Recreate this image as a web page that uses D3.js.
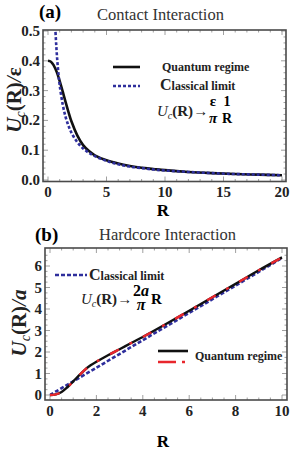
<!DOCTYPE html>
<html>
<head>
<meta charset="utf-8">
<script src="https://cdn.jsdelivr.net/npm/d3@7"></script>
<style>
  body { margin: 0; background: #fff; }
  svg { display: block; }
</style>
</head>
<body>
<svg id="chart" width="291" height="450"></svg>
<script>
// panel (a): contact interaction
const contactR = [0, 0.25, 0.5, 0.75, 1, 1.25, 1.5, 1.75, 2, 2.5, 3, 3.5, 4, 5, 6, 7, 8, 9, 10, 12, 14, 16, 18, 20];
const contactQuantum = [0.400, 0.397, 0.384, 0.362, 0.332, 0.298, 0.262, 0.228, 0.197, 0.150, 0.117, 0.097, 0.083, 0.066, 0.055, 0.047, 0.041, 0.037, 0.033, 0.027, 0.023, 0.020, 0.018, 0.016];
const contactClassR = [0.62, 0.7, 0.8, 0.9, 1, 1.25, 1.5, 1.75, 2, 2.5, 3, 3.5, 4, 5, 6, 7, 8, 9, 10, 12, 14, 16, 18, 20];
const contactClassical = [0.513, 0.455, 0.398, 0.354, 0.318, 0.255, 0.212, 0.182, 0.159, 0.127, 0.106, 0.091, 0.080, 0.064, 0.053, 0.045, 0.040, 0.035, 0.032, 0.027, 0.023, 0.020, 0.018, 0.016];
const contactXTicks = [0, 5, 10, 15, 20];
const contactYTicks = [0.0, 0.1, 0.2, 0.3, 0.4, 0.5];

// panel (b): hardcore interaction
const hardR = [0, 0.25, 0.5, 0.75, 1, 1.25, 1.5, 1.75, 2, 2.5, 3, 3.5, 4, 5, 6, 7, 8, 9, 10];
const hardQuantum = [0, 0.03, 0.14, 0.36, 0.63, 0.91, 1.17, 1.38, 1.55, 1.85, 2.13, 2.42, 2.70, 3.30, 3.92, 4.55, 5.17, 5.80, 6.40];
const hardClassR = [0, 2, 4, 6, 8, 10];
const hardClassical = [0, 1.27, 2.55, 3.82, 5.09, 6.37];
const hardXTicks = [0, 2, 4, 6, 8, 10];
const hardYTicks = [0, 1, 2, 3, 4, 5, 6];

const BLUE = '#2e2e9c';
const RED = '#e8262c';
const FRAME = '#4a4a4a';

const svg = d3.select('#chart');

function drawPanel(cfg) {
  const g = svg.append('g');
  const x = d3.scaleLinear().domain(cfg.xDomain).range(cfg.xRange);
  const y = d3.scaleLinear().domain(cfg.yDomain).range(cfg.yRange);
  const f = cfg.frame;

  g.append('clipPath').attr('id', cfg.id + '-clip')
    .append('rect').attr('x', f.x0).attr('y', f.y0)
    .attr('width', f.x1 - f.x0).attr('height', f.y1 - f.y0);

  // small inward ticks on all four sides
  const tickG = g.append('g').attr('stroke', '#888').attr('stroke-width', 0.8);
  cfg.xMinor.forEach(v => {
    const len = cfg.xTicks.includes(v) ? 5 : 2.5;
    tickG.append('line').attr('x1', x(v)).attr('x2', x(v)).attr('y1', f.y1).attr('y2', f.y1 - len);
    tickG.append('line').attr('x1', x(v)).attr('x2', x(v)).attr('y1', f.y0).attr('y2', f.y0 + len);
  });
  cfg.yMinor.forEach(v => {
    const len = cfg.yTicks.some(t => Math.abs(t - v) < 1e-9) ? 5 : 2.5;
    tickG.append('line').attr('y1', y(v)).attr('y2', y(v)).attr('x1', f.x0).attr('x2', f.x0 + len);
    tickG.append('line').attr('y1', y(v)).attr('y2', y(v)).attr('x1', f.x1).attr('x2', f.x1 - len);
  });

  g.append('g').selectAll('text').data(cfg.xTicks).enter().append('text')
    .attr('x', d => x(d)).attr('y', cfg.xLabelY)
    .attr('text-anchor', 'middle').attr('font-weight', 'bold').attr('font-size', 15)
    .attr('fill', '#222')
    .text(d => d);
  g.append('g').selectAll('text').data(cfg.yTicks).enter().append('text')
    .attr('x', f.x0 - 3).attr('y', d => y(d) + 5)
    .attr('text-anchor', 'end').attr('font-weight', 'bold').attr('font-size', 15)
    .attr('fill', '#222')
    .text(cfg.yFormat);

  const line = d3.line().x(d => x(d[0])).y(d => y(d[1])).curve(d3.curveCatmullRom);
  const lines = g.append('g').attr('clip-path', 'url(#' + cfg.id + '-clip)').attr('fill', 'none');
  cfg.series.forEach(s => {
    lines.append('path')
      .attr('d', line(s.xs.map((v, i) => [v, s.ys[i]])))
      .attr('stroke', s.color).attr('stroke-width', s.width)
      .attr('stroke-dasharray', s.dash || null);
  });

  g.append('rect').attr('x', f.x0).attr('y', f.y0)
    .attr('width', f.x1 - f.x0).attr('height', f.y1 - f.y0)
    .attr('fill', 'none').attr('stroke', FRAME).attr('stroke-width', 1.6);
}

function range(a, b, step) {
  const out = [];
  for (let v = a; v <= b + 1e-9; v += step) out.push(+v.toFixed(4));
  return out;
}

drawPanel({
  id: 'a',
  xDomain: [0, 20], xRange: [48, 282],
  yDomain: [0, 0.5], yRange: [180, 31],
  frame: { x0: 43, x1: 286, y0: 30, y1: 181.5 },
  xTicks: contactXTicks, xMinor: range(0, 20, 1),
  yTicks: contactYTicks, yMinor: range(0, 0.5, 0.02),
  yFormat: d => d.toFixed(1),
  xLabelY: 197,
  series: [
    { xs: contactR, ys: contactQuantum, color: '#111', width: 2.6 },
    { xs: contactClassR, ys: contactClassical, color: BLUE, width: 2.6, dash: '3,2' }
  ]
});

drawPanel({
  id: 'b',
  xDomain: [0, 10], xRange: [50, 282],
  yDomain: [0, 6], yRange: [395, 266],
  frame: { x0: 45, x1: 287, y0: 248, y1: 400 },
  xTicks: hardXTicks, xMinor: range(0, 10, 0.5),
  yTicks: hardYTicks, yMinor: range(0, 6.5, 0.25),
  yFormat: d => d,
  xLabelY: 416,
  series: [
    { xs: hardClassR, ys: hardClassical, color: BLUE, width: 2.6, dash: '4,2' },
    { xs: hardR, ys: hardQuantum, color: '#111', width: 2.4 },
    { xs: hardR, ys: hardQuantum, color: RED, width: 2.4, dash: '10,12,3,12' }
  ]
});

// titles
svg.append('text').attr('x', 39).attr('y', 18).attr('font-size', 19).attr('font-weight', 'bold').text('(a)');
svg.append('text').attr('x', 97).attr('y', 20).attr('font-size', 16.5).attr('fill', '#333').text('Contact Interaction');
svg.append('text').attr('x', 35).attr('y', 241).attr('font-size', 19).attr('font-weight', 'bold').text('(b)');
svg.append('text').attr('x', 99).attr('y', 240).attr('font-size', 16.5).attr('fill', '#333').text('Hardcore Interaction');

svg.append('text').attr('x', 163).attr('y', 216).attr('text-anchor', 'middle')
  .attr('font-size', 17).attr('font-weight', 'bold').text('R');
svg.append('text').attr('x', 163).attr('y', 447).attr('text-anchor', 'middle')
  .attr('font-size', 17).attr('font-weight', 'bold').text('R');

function yTitle(cx, cy, last, lastItalic) {
  const t = svg.append('text').attr('transform', `translate(${cx},${cy}) rotate(-90)`)
    .attr('text-anchor', 'middle').attr('font-size', 21).attr('fill', '#222');
  t.append('tspan').attr('font-style', 'italic').attr('font-weight', 'bold').text('U');
  t.append('tspan').attr('font-style', 'italic').attr('font-size', 14).attr('dy', 4).text('c');
  t.append('tspan').attr('font-weight', 'bold').attr('dy', -4).text('(R)');
  t.append('tspan').attr('font-style', 'italic').text('/');
  t.append('tspan').attr('font-style', lastItalic ? 'italic' : null).attr('font-weight', 'bold').text(last);
}
yTitle(21, 100, 'ε', false);
yTitle(26, 323, 'a', true);

function legendText(x, y, label, bigFirst) {
  const t = svg.append('text').attr('x', x).attr('y', y).attr('font-size', 12)
    .attr('font-weight', 'bold').attr('fill', '#222');
  if (bigFirst) {
    t.append('tspan').attr('font-size', 16).text(label[0]);
    t.append('tspan').text(label.slice(1));
  } else {
    t.text(label);
  }
}

// legend (a)
svg.append('line').attr('x1', 113).attr('x2', 140).attr('y1', 67).attr('y2', 67)
  .attr('stroke', '#111').attr('stroke-width', 2.6);
legendText(162, 71, 'Quantum regime', false);
svg.append('line').attr('x1', 113).attr('x2', 140).attr('y1', 86).attr('y2', 86)
  .attr('stroke', BLUE).attr('stroke-width', 2.4).attr('stroke-dasharray', '3,2');
legendText(160, 90, 'Classical limit', true);

function uc(x, y) {
  const t = svg.append('text').attr('x', x).attr('y', y).attr('font-size', 15).attr('fill', '#222');
  t.append('tspan').attr('font-style', 'italic').text('U');
  t.append('tspan').attr('font-style', 'italic').attr('font-size', 10).attr('dy', 3).text('c');
  t.append('tspan').attr('font-weight', 'bold').attr('dy', -3).text('(R)');
  t.append('tspan').attr('font-weight', 'bold').text('→');
}
uc(157, 116);
svg.append('text').attr('x', 213).attr('y', 106).attr('text-anchor', 'middle').attr('font-size', 15).attr('font-weight', 'bold').text('ε');
svg.append('text').attr('x', 213).attr('y', 123).attr('text-anchor', 'middle').attr('font-size', 15).attr('font-style', 'italic').attr('font-weight', 'bold').text('π');
svg.append('text').attr('x', 227).attr('y', 106).attr('text-anchor', 'middle').attr('font-size', 14).attr('font-weight', 'bold').text('1');
svg.append('text').attr('x', 227).attr('y', 123).attr('text-anchor', 'middle').attr('font-size', 14).attr('font-weight', 'bold').text('R');

// legend (b)
svg.append('line').attr('x1', 55).attr('x2', 87).attr('y1', 275).attr('y2', 275)
  .attr('stroke', BLUE).attr('stroke-width', 2.6).attr('stroke-dasharray', '4,2');
legendText(89, 280, 'Classical limit', true);
uc(81, 304);
svg.append('text').attr('x', 141).attr('y', 296).attr('text-anchor', 'middle').attr('font-size', 16)
  .attr('font-weight', 'bold').html('2<tspan font-style="italic">a</tspan>');
svg.append('text').attr('x', 141).attr('y', 310).attr('text-anchor', 'middle').attr('font-size', 16).attr('font-style', 'italic').attr('font-weight', 'bold').text('π');
svg.append('text').attr('x', 151).attr('y', 304).attr('font-size', 15).attr('font-weight', 'bold').text('R');

svg.append('line').attr('x1', 158).attr('x2', 188).attr('y1', 351).attr('y2', 351)
  .attr('stroke', '#111').attr('stroke-width', 2.6);
svg.append('line').attr('x1', 158).attr('x2', 188).attr('y1', 362).attr('y2', 362)
  .attr('stroke', RED).attr('stroke-width', 2.6).attr('stroke-dasharray', '18,6,3,6');
legendText(195, 360, 'Quantum regime', false);

svg.selectAll('text').attr('font-family', '"Liberation Serif", "Times New Roman", serif');
</script>
</body>
</html>
